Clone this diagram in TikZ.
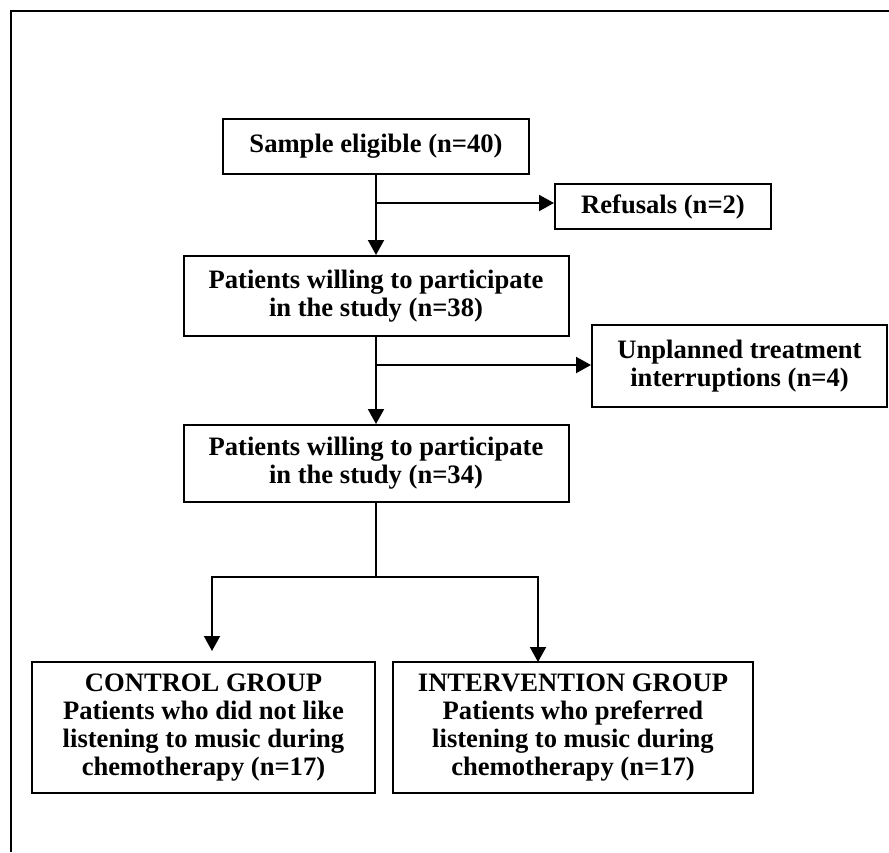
\documentclass[tikz,border=0pt]{standalone}
\usepackage{fontspec}
\setmainfont{Liberation Serif}
\usetikzlibrary{arrows.meta}

\begin{document}
\begin{tikzpicture}[x=0.5pt,y=-0.5pt,
    box/.style={draw,line width=1pt,align=center,inner sep=0pt,
        font=\bfseries\fontsize{13.3}{13.9}\selectfont},
    arr/.style={line width=1pt,-{Triangle[width=8pt,length=7.5pt]}}]
    \useasboundingbox (0,0) rectangle (889,852);
    \draw[line width=1pt] (10.5,852)--(10.5,11)--(889,11);

    \node[box,minimum width=153pt,minimum height=27.5pt] (eligible) at (376,146.5) {Sample eligible (n=40)};
    \node[box,minimum width=108pt,minimum height=22.5pt] (refusals) at (663,206.5) {Refusals (n=2)};
    \node[box,minimum width=192.5pt,minimum height=40pt] (willing1) at (376,296) {Patients willing to participate\\in the study (n=38)};
    \node[box,minimum width=147.5pt,minimum height=41pt] (unplanned) at (739.5,366) {Unplanned treatment\\interruptions (n=4)};
    \node[box,minimum width=192.5pt,minimum height=38.5pt] (willing2) at (376,463.5) {Patients willing to participate\\in the study (n=34)};
    \node[box,minimum width=171.5pt,minimum height=65.5pt] (control) at (203.5,727.5) {CONTROL GROUP\\Patients who did not like\\listening to music during\\chemotherapy (n=17)};
    \node[box,minimum width=180pt,minimum height=65.5pt] (intervention) at (573,727.5) {INTERVENTION GROUP\\Patients who preferred\\listening to music during\\chemotherapy (n=17)};

    \coordinate (split1) at (376,203);
    \coordinate (split2) at (376,365);
    \coordinate (fork) at (376,577);
    \coordinate (leftend) at (212,651);
    \coordinate (rightend) at (538,662);

    \draw[arr] (eligible.south)--(willing1.north);
    \draw[arr] (split1)--(split1 -| refusals.west);
    \draw[arr] (willing1.south)--(willing2.north);
    \draw[arr] (split2)--(split2 -| unplanned.west);
    \draw[line width=1pt] (willing2.south)--(fork);
    \draw[arr] (fork) -| (leftend);
    \draw[arr] (fork) -| (rightend);

\end{tikzpicture}
\end{document}
